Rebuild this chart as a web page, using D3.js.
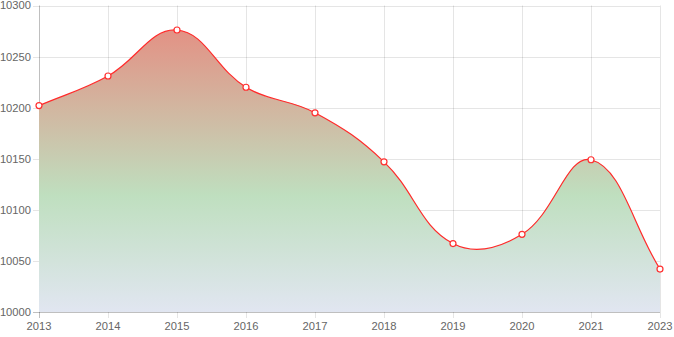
<!DOCTYPE html>
<html>
<head>
<meta charset="utf-8">
<script src="https://cdn.jsdelivr.net/npm/d3@7"></script>
<style>
  body { margin: 0; background: #fff; }
  svg { display: block; }
  text { font-family: "Liberation Sans", Arial, sans-serif; font-size: 11.2px; fill: #666; }
</style>
</head>
<body>
<div id="chart"></div>
<script>
var years = ['2013', '2014', '2015', '2016', '2017', '2018', '2019', '2020', '2021', '2023'];
var values = [10202, 10231, 10276, 10220, 10195, 10147, 10067, 10076, 10149, 10042];
var yTicks = [10000, 10050, 10100, 10150, 10200, 10250, 10300];

var W = 674, H = 337;
var m = {top: 5.5, right: 14, bottom: 25, left: 39};

var svg = d3.select('#chart').append('svg').attr('width', W).attr('height', H);

var x = d3.scalePoint().domain(years).range([m.left, W - m.right]);
var y = d3.scaleLinear().domain([10000, 10300]).range([H - m.bottom, m.top]);

// gradient fill
var defs = svg.append('defs');
var grad = defs.append('linearGradient').attr('id', 'fillGrad')
  .attr('gradientUnits', 'userSpaceOnUse')
  .attr('x1', 0).attr('x2', 0).attr('y1', y(10300)).attr('y2', y(10000));
grad.append('stop').attr('offset', '0').attr('stop-color', '#e8867c');
grad.append('stop').attr('offset', '0.62').attr('stop-color', '#bfdfbf');
grad.append('stop').attr('offset', '1').attr('stop-color', '#e1e6f1');

// grid
var g = svg.append('g');
g.selectAll('.hgrid').data(yTicks).enter().append('line')
  .attr('x1', m.left - 6).attr('x2', W - m.right)
  .attr('y1', function(d) { return Math.round(y(d)) + 0.5; })
  .attr('y2', function(d) { return Math.round(y(d)) + 0.5; })
  .attr('stroke', function(d) { return d == 10000 ? 'rgba(0,0,0,0.25)' : 'rgba(0,0,0,0.1)'; });
g.selectAll('.vgrid').data(years).enter().append('line')
  .attr('x1', function(d) { return Math.round(x(d)) + 0.5; })
  .attr('x2', function(d) { return Math.round(x(d)) + 0.5; })
  .attr('y1', m.top).attr('y2', H - m.bottom + 6)
  .attr('stroke', function(d, i) { return i == 0 ? 'rgba(0,0,0,0.25)' : 'rgba(0,0,0,0.1)'; });

// chart.js style spline (tension 0.4)
var pts = years.map(function(d, i) { return [x(d), y(values[i])]; });
var t = 0.4;
var cps = pts.map(function(p, i) {
  var prev = pts[i - 1] || p, next = pts[i + 1] || p;
  var d01 = Math.hypot(p[0] - prev[0], p[1] - prev[1]);
  var d12 = Math.hypot(next[0] - p[0], next[1] - p[1]);
  var s01 = d01 / (d01 + d12), s12 = d12 / (d01 + d12);
  if (isNaN(s01)) s01 = 0;
  if (isNaN(s12)) s12 = 0;
  var fa = t * s01, fb = t * s12;
  return {
    prev: [p[0] - fa * (next[0] - prev[0]), p[1] - fa * (next[1] - prev[1])],
    next: [p[0] + fb * (next[0] - prev[0]), p[1] + fb * (next[1] - prev[1])]
  };
});

function linePath(ctx) {
  ctx.moveTo(pts[0][0], pts[0][1]);
  for (var i = 1; i < pts.length; i++) {
    ctx.bezierCurveTo(cps[i - 1].next[0], cps[i - 1].next[1], cps[i].prev[0], cps[i].prev[1], pts[i][0], pts[i][1]);
  }
  return ctx;
}

var area = linePath(d3.path());
area.lineTo(pts[pts.length - 1][0], y(10000));
area.lineTo(pts[0][0], y(10000));
area.closePath();
svg.append('path').attr('d', area.toString()).attr('fill', 'url(#fillGrad)');

svg.append('path').attr('d', linePath(d3.path()).toString())
  .attr('fill', 'none').attr('stroke', '#ff2a2a').attr('stroke-width', 1.2);

svg.selectAll('.pt').data(pts).enter().append('circle')
  .attr('cx', function(d) { return d[0]; }).attr('cy', function(d) { return d[1]; })
  .attr('r', 3).attr('fill', '#fff').attr('stroke', '#ff3030').attr('stroke-width', 1.2);

// labels
svg.selectAll('.yl').data(yTicks).enter().append('text')
  .attr('x', m.left - 8).attr('y', function(d) { return y(d); })
  .attr('dy', '0.35em').attr('text-anchor', 'end')
  .text(function(d) { return d; });
svg.selectAll('.xl').data(years).enter().append('text')
  .attr('x', function(d) { return x(d); }).attr('y', H - m.bottom + 18)
  .attr('text-anchor', 'middle')
  .text(function(d) { return d; });
</script>
</body>
</html>
